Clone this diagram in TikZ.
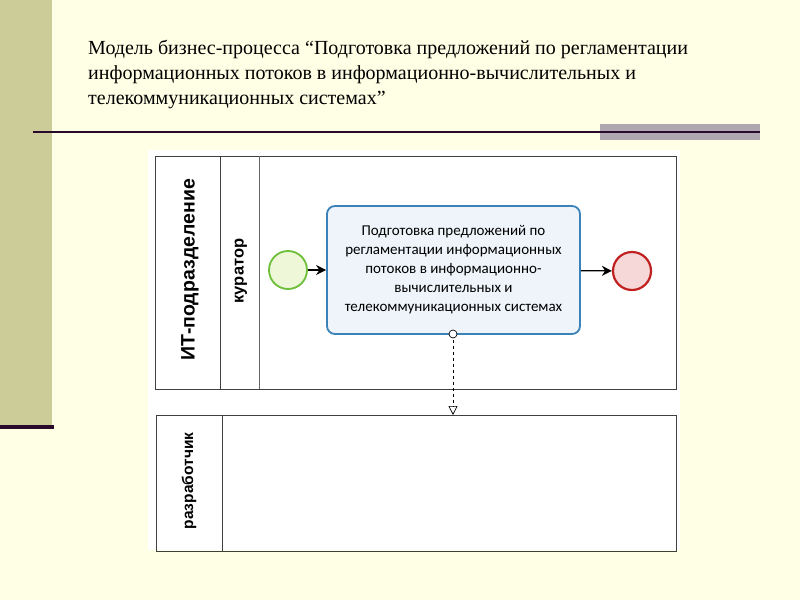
\documentclass[tikz,border=0pt]{standalone}
\usepackage{fontspec}
\usetikzlibrary{arrows.meta}
\setmainfont{Liberation Serif}
\newfontfamily\lsans{Liberation Sans}
\newfontfamily\carl{Carlito}
\definecolor{bgc}{HTML}{FFFFE6}
\definecolor{barc}{HTML}{CCCC99}
\definecolor{darkl}{HTML}{2A0A2A}
\definecolor{grayb}{HTML}{B0A8B0}
\definecolor{taskb}{HTML}{3A82B8}
\definecolor{taskf}{HTML}{EEF4FA}
\definecolor{startc}{HTML}{6DBF3A}
\definecolor{startf}{HTML}{EEF8D8}
\definecolor{endc}{HTML}{C02020}
\definecolor{endf}{HTML}{F6D8D8}
\begin{document}
\begin{tikzpicture}[x=1pt,y=-1pt,
  pool/.style={draw=black!75,line width=1pt},
  lanelbl/.style={rotate=90,font=\lsans\bfseries},
  flow/.style={-{Stealth[length=10pt,width=10pt]},line width=1.3pt},
  msg/.style={dashed,line width=0.7pt,-{Triangle[open,length=9pt,width=9pt]}}]
\useasboundingbox (0,0) rectangle (800,600);
\fill[bgc] (0,0) rectangle (800,600);
\fill[barc] (0,0) rectangle (52,425);
\fill[darkl] (0,425) rectangle (54,429);
\fill[grayb] (600,124) rectangle (760,140);
\draw[darkl,line width=2.5pt] (33,132) -- (760,132);
\node[anchor=north west,align=left,font=\fontsize{20}{25}\selectfont,inner sep=0pt] (title) at (88,40)
 {Модель бизнес-процесса “Подготовка предложений по регламентации\\информационных потоков в информационно-вычислительных и\\телекоммуникационных системах”};
\fill[white] (148,150) rectangle (680,550);
\draw[pool] (155,156) rectangle (676,389);
\draw[pool] (220,156) -- (220,389);
\draw[pool,black!60] (259,156) -- (259,389);
\draw[pool] (156,415) rectangle (676,551);
\draw[pool] (222,415) -- (222,551);
\node[lanelbl,font=\fontsize{19.5}{22}\selectfont\lsans\bfseries] (it) at (190,270) {ИТ-подразделение};
\node[lanelbl,font=\fontsize{16.5}{18}\selectfont\lsans\bfseries] (kur) at (241,271) {куратор};
\node[lanelbl,font=\fontsize{15.5}{18}\selectfont\lsans\bfseries] (raz) at (189,481) {разработчик};
\node[circle,draw=startc,fill=startf,line width=1.8pt,minimum size=38pt,inner sep=0pt] (start) at (288,270) {};
\node[circle,draw=endc,fill=endf,line width=2.2pt,minimum size=38pt,inner sep=0pt] (end) at (632,271) {};
\node[draw=taskb,fill=taskf,line width=1.8pt,rounded corners=8pt,minimum width=253pt,minimum height=128pt,align=center,font=\fontsize{15}{19}\selectfont\carl] (task) at (453.5,270)
 {Подготовка предложений по\\регламентации информационных\\потоков в информационно-\\вычислительных и\\телекоммуникационных системах};
\draw[flow] (start) -- (task);
\draw[flow] (task) -- (end);
\coordinate (mstart) at (453,334);
\coordinate (mend) at (453,415);
\draw[msg] (mstart) -- (mend);
\draw[fill=white,line width=0.7pt] (mstart) circle (4pt);
\end{tikzpicture}
\end{document}
